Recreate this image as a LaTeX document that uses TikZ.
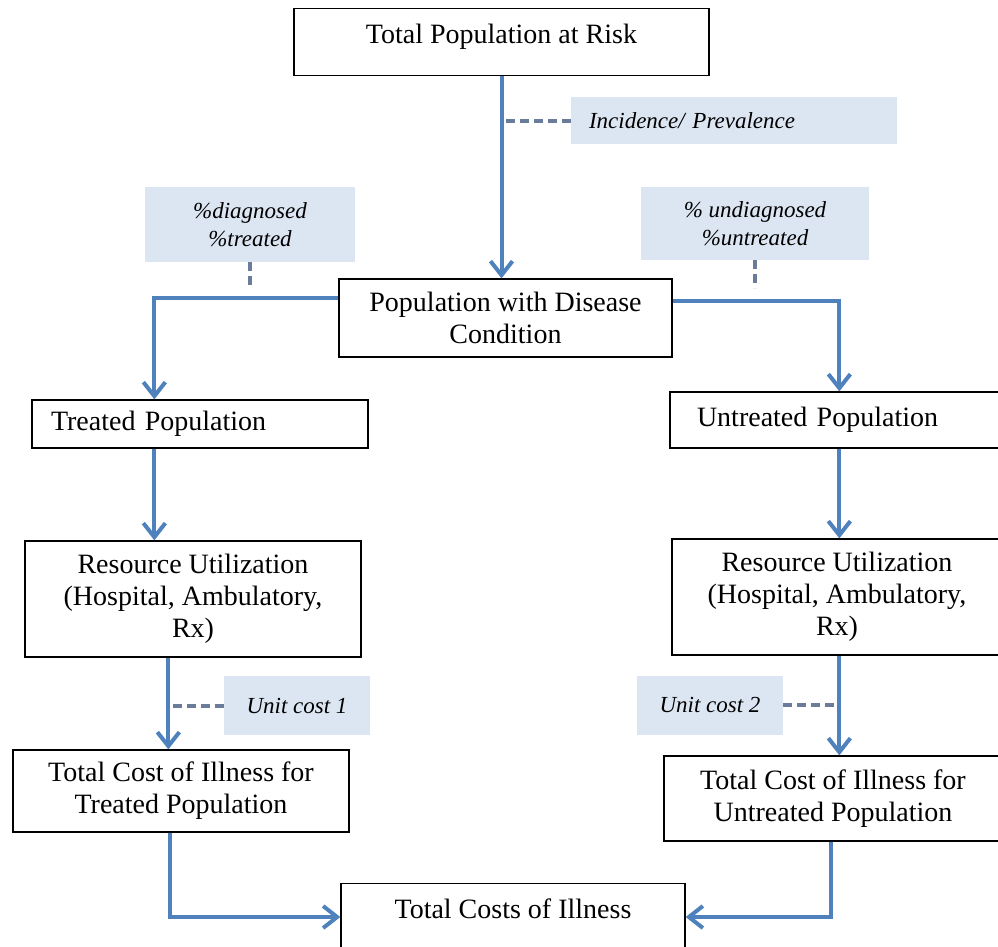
\documentclass[tikz,border=0pt]{standalone}
\usepackage{fontspec}
\setmainfont{Liberation Serif}
\usetikzlibrary{arrows.meta}
\definecolor{flowblue}{RGB}{79,129,189}
\definecolor{dashgray}{RGB}{105,125,155}
\definecolor{notefill}{RGB}{220,230,242}

\begin{document}
\begin{tikzpicture}[
        x=1pt, y=-1pt,
        box/.style={rectangle, draw=black, line width=1.3pt, fill=white, inner sep=0pt, align=center, font=\fontsize{28}{32}\selectfont},
        note/.style={rectangle, fill=notefill, inner sep=0pt, align=center, font=\fontsize{23}{28}\selectfont\itshape},
        arrow/.style={line width=4pt, draw=flowblue, -{Straight Barb[length=14pt,width=22pt]}},
        dashline/.style={line width=4pt, draw=dashgray, dash pattern=on 9pt off 5pt}
    ]
    \useasboundingbox (0,0) rectangle (998,946);

    % Population boxes
    \node[box, anchor=north, minimum width=415pt, inner ysep=15pt, text height=20pt, text depth=17pt] (risk) at (501.5,8) {Total Population at Risk};
    \node[box, minimum width=333pt, minimum height=78pt] (pop) at (505.5,318) {Population with Disease\\Condition};
    \node[box, minimum width=336pt, minimum height=48pt, text width=298pt, align=left] (treated) at (200,424) {Treated Population};
    \node[box, minimum width=332pt, minimum height=56pt, text width=278pt, align=left] (untreated) at (836,420) {Untreated Population};

    % Resource use
    \node[box, minimum width=336pt, minimum height=116pt] (resL) at (193,599) {Resource Utilization\\(Hospital, Ambulatory,\\Rx)};
    \node[box, minimum width=330pt, minimum height=116pt] (resR) at (837,597) {Resource Utilization\\(Hospital, Ambulatory,\\Rx)};

    % Costs
    \node[box, minimum width=336pt, minimum height=82pt] (costL) at (181,791) {Total Cost of Illness for\\Treated Population};
    \node[box, minimum width=338pt, minimum height=85pt] (costR) at (833,798.5) {Total Cost of Illness for\\Untreated Population};
    \node[box, anchor=north, minimum width=344pt, inner ysep=15pt, text height=20pt, text depth=70pt] (total) at (513,883) {Total Costs of Illness};

    % Notes
    \node[note, minimum width=326pt, minimum height=47pt, text width=290pt, align=left] (incid) at (734,120.5) {Incidence/ Prevalence};
    \node[note, minimum width=210pt, minimum height=75pt] (diag) at (250,224.5) {\%diagnosed\\\%treated};
    \node[note, minimum width=228pt, minimum height=73pt] (undiag) at (755,223.5) {\% undiagnosed\\\%untreated};
    \node[note, minimum width=146pt, minimum height=59pt] (cost1) at (297,705.5) {Unit cost 1};
    \node[note, minimum width=146pt, minimum height=59pt] (cost2) at (710,705) {Unit cost 2};

    % Flow
    \draw[arrow] (risk.south) -- (risk.south |- pop.north);
    \draw[arrow] ([yshift=-20pt]pop.north west) -| ([xshift=123pt]treated.north west);
    \draw[arrow] ([yshift=-23pt]pop.north east) -| ([xshift=170pt]untreated.north west);
    \draw[arrow] ([xshift=123pt]treated.south west) -- ([xshift=130pt]resL.north west);
    \draw[arrow] ([xshift=170pt]untreated.south west) -- ([xshift=168pt]resR.north west);
    \draw[arrow] ([xshift=144pt]resL.south west) -- ([xshift=156pt]costL.north west);
    \draw[arrow] ([xshift=168pt]resR.south west) -- ([xshift=176pt]costR.north west);
    \draw[arrow] ([xshift=158pt]costL.south west) |- ([yshift=-34pt]total.north west);
    \draw[arrow] ([xshift=168pt]costR.south west) |- ([yshift=-34pt]total.north east);

    % Note links
    \draw[dashline] (incid.west) -- (incid.west -| risk.south);
    \draw[dashline] (diag.south) -- ++(0,27);
    \draw[dashline] (undiag.south) -- ++(0,28);
    \draw[dashline] (cost1.west) -- ++(-53,0);
    \draw[dashline] (cost2.east) -- ++(55,0);

\end{tikzpicture}
\end{document}
